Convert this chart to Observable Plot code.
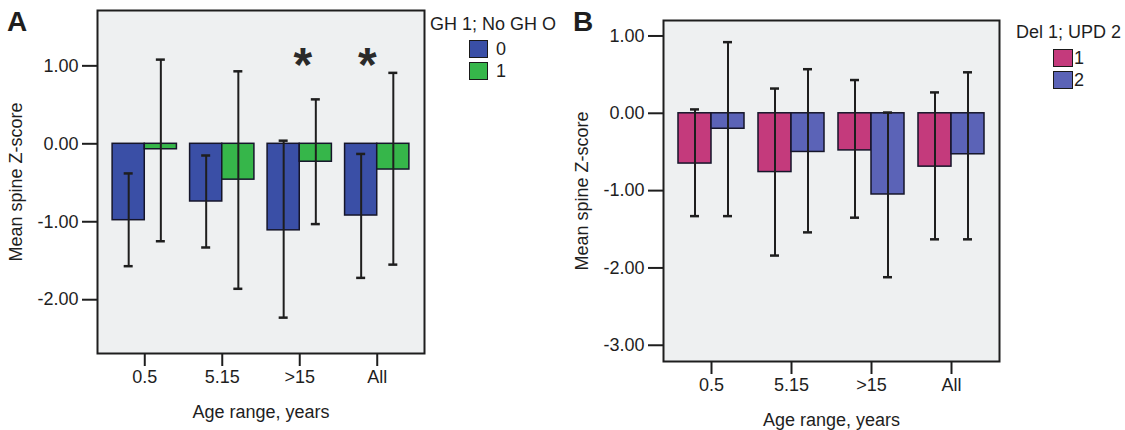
<!DOCTYPE html>
<html><head><meta charset="utf-8">
<script src="https://cdn.jsdelivr.net/npm/d3@7"></script>
<script src="https://cdn.jsdelivr.net/npm/@observablehq/plot@0.6"></script>
<style>
body{margin:0;background:#fff;font-family:"Liberation Sans",Arial,sans-serif;color:#1e1e1e;}
#wrap{position:relative;width:1125px;height:430px;overflow:hidden;background:#fff;}
.panel{position:absolute;top:0;}
.letter{position:absolute;font-weight:bold;font-size:28px;line-height:1;}
.lg-title{position:absolute;font-size:18px;line-height:1;white-space:nowrap;}
.sw{position:absolute;box-sizing:border-box;border:1.5px solid #1a1a1a;}
.lg-lab{position:absolute;font-size:18px;line-height:1;}
</style></head><body><div id="wrap"></div>
<script>
// ---- data ----
const groups = ["0.5", "5.15", ">15", "All"];

// Panel A: GH 1; No GH 0
const legendTitleA = "GH 1; No GH O";
const seriesA = ["0", "1"];
const meanA0 = [-0.98, -0.74, -1.11, -0.92];
const loA0   = [-1.57, -1.33, -2.23, -1.72];
const hiA0   = [-0.38, -0.15, 0.04, -0.13];
const meanA1 = [-0.07, -0.46, -0.23, -0.33];
const loA1   = [-1.25, -1.86, -1.03, -1.55];
const hiA1   = [1.08, 0.93, 0.57, 0.91];
const starGroupsA = [">15", "All"];
const starValueA = 1.09;
const yTicksA = [1, 0, -1, -2];

// Panel B: Del 1; UPD 2
const legendTitleB = "Del 1; UPD 2";
const seriesB = ["1", "2"];
const meanB1 = [-0.65, -0.76, -0.48, -0.69];
const loB1   = [-1.33, -1.84, -1.35, -1.63];
const hiB1   = [0.05, 0.32, 0.43, 0.27];
const meanB2 = [-0.20, -0.50, -1.05, -0.53];
const loB2   = [-1.33, -1.54, -2.12, -1.63];
const hiB2   = [0.92, 0.57, 0.01, 0.53];
const yTicksB = [1, 0, -1, -2, -3];

const xLabel = "Age range, years";
const yLabel = "Mean spine Z-score";

// ---- styles ----
const colorsA = ["#3a4fa6", "#36b64a"];
const colorsB = ["#c43a7c", "#5b63b7"];
const bg = "#eef0f1";
const ink = "#1e1e1e";

function rows(series, means, los, his) {
  const out = [];
  series.forEach((s, si) => groups.forEach((g, gi) => out.push({group: g, series: s, mean: means[si][gi], lo: los[si][gi], hi: his[si][gi]})));
  return out;
}
const dataA = rows(seriesA, [meanA0, meanA1], [loA0, loA1], [hiA0, hiA1]);
const dataB = rows(seriesB, [meanB1, meanB2], [loB1, loB2], [hiB1, hiB2]);

function panel(cfg) {
  const {data, series, colors, width, height, margin, yDomain, yTicks, pi, po, yLabelOffset, xLabelOffset, extra} = cfg;
  const W = width - margin.left - margin.right;
  const step = W / (groups.length - pi + 2 * po);
  const bw = step * (1 - pi);
  const cap = 9;
  const capInset = (bw - cap) / 2;
  const marks = [
    Plot.frame({fill: bg, stroke: "none"}),
    Plot.axisY(yTicks, {tickFormat: d => d.toFixed(2), tickSize: 15, tickPadding: 4, strokeWidth: 2, stroke: ink, fill: ink, fontSize: 18,
      label: yLabel, labelAnchor: "center", labelArrow: "none", labelOffset: yLabelOffset}),
    Plot.axisX({tickSize: 13, tickPadding: 4, strokeWidth: 2, stroke: ink, fill: ink, fontSize: 18,
      label: xLabel, labelAnchor: "center", labelArrow: "none", labelOffset: xLabelOffset}),
  ];
  series.forEach((s, i) => {
    const sub = data.filter(d => d.series === s);
    const left = i === 0;
    marks.push(Plot.barY(sub, {x: "group", y: "mean", fill: "series", stroke: "#15152a", strokeWidth: 1.5,
      insetLeft: left ? 0 : bw / 2, insetRight: left ? bw / 2 : 0}));
  });
  series.forEach((s, i) => {
    const sub = data.filter(d => d.series === s);
    const dx = (i === 0 ? -1 : 1) * bw / 4;
    marks.push(Plot.ruleX(sub, {x: "group", y1: "lo", y2: "hi", dx, stroke: ink, strokeWidth: 2}));
    marks.push(Plot.tickY(sub, {x: "group", y: "hi", dx, insetLeft: capInset, insetRight: capInset, stroke: ink, strokeWidth: 2.5}));
    marks.push(Plot.tickY(sub, {x: "group", y: "lo", dx, insetLeft: capInset, insetRight: capInset, stroke: ink, strokeWidth: 2.5}));
  });
  if (extra) marks.push(...extra);
  marks.push(Plot.frame({stroke: ink, strokeWidth: 2}));
  return Plot.plot({
    width, height,
    marginLeft: margin.left, marginRight: margin.right, marginTop: margin.top, marginBottom: margin.bottom,
    style: {fontFamily: "'Liberation Sans', Arial, sans-serif", fontSize: "18px", color: ink, background: "transparent", overflow: "visible"},
    x: {domain: groups, paddingInner: pi, paddingOuter: po, round: false},
    y: {domain: yDomain},
    color: {domain: series, range: colors},
    marks
  });
}

const wrap = document.getElementById("wrap");

const starA = [
  Plot.text(starGroupsA.filter(g => g === ">15"), {x: d => d, y: () => starValueA, text: () => "*", fontSize: 48, fontWeight: "bold", fill: "#2a2a2a", dx: 3, dy: 7}),
  Plot.text(starGroupsA.filter(g => g === "All"), {x: d => d, y: () => starValueA, text: () => "*", fontSize: 48, fontWeight: "bold", fill: "#2a2a2a", dx: -10, dy: 7})
];

const A = panel({data: dataA, series: seriesA, colors: colorsA, width: 440, height: 430,
  margin: {left: 97, right: 16, top: 10, bottom: 77}, yDomain: [-2.69, 1.71], yTicks: yTicksA,
  pi: 0.17, po: 0.195, yLabelOffset: 88, xLabelOffset: 64, extra: starA});
A.classList.add("panel"); A.style.left = "0px";
wrap.appendChild(A);

const B = panel({data: dataB, series: seriesB, colors: colorsB, width: 450, height: 430,
  margin: {left: 103, right: 11, top: 20, bottom: 69}, yDomain: [-3.21, 1.20], yTicks: yTicksB,
  pi: 0.175, po: 0.1875, yLabelOffset: 88, xLabelOffset: 64});
B.classList.add("panel"); B.style.left = "560px";
wrap.appendChild(B);

function letter(t, x, y) {
  const d = document.createElement("div"); d.className = "letter"; d.textContent = t;
  d.style.left = x + "px"; d.style.top = y + "px"; wrap.appendChild(d);
}
letter("A", 7, 8);
letter("B", 573, 8);

function legend(title, series, colors, tx, ty, sx, sy, sw, sh, gap, lx) {
  const t = document.createElement("div"); t.className = "lg-title"; t.textContent = title;
  t.style.left = tx + "px"; t.style.top = ty + "px"; wrap.appendChild(t);
  series.forEach((s, i) => {
    const r = document.createElement("div"); r.className = "sw";
    r.style.left = sx + "px"; r.style.top = (sy + i * gap) + "px";
    r.style.width = sw + "px"; r.style.height = sh + "px"; r.style.background = colors[i];
    wrap.appendChild(r);
    const l = document.createElement("div"); l.className = "lg-lab"; l.textContent = s;
    l.style.left = lx + "px"; l.style.top = (sy + i * gap + sh / 2 - 9) + "px";
    wrap.appendChild(l);
  });
}
legend(legendTitleA, seriesA, colorsA, 430, 15, 469, 40, 19, 18, 22, 496);
legend(legendTitleB, seriesB, colorsB, 1016, 23, 1053, 49, 20, 18, 22, 1074);
</script></body></html>
